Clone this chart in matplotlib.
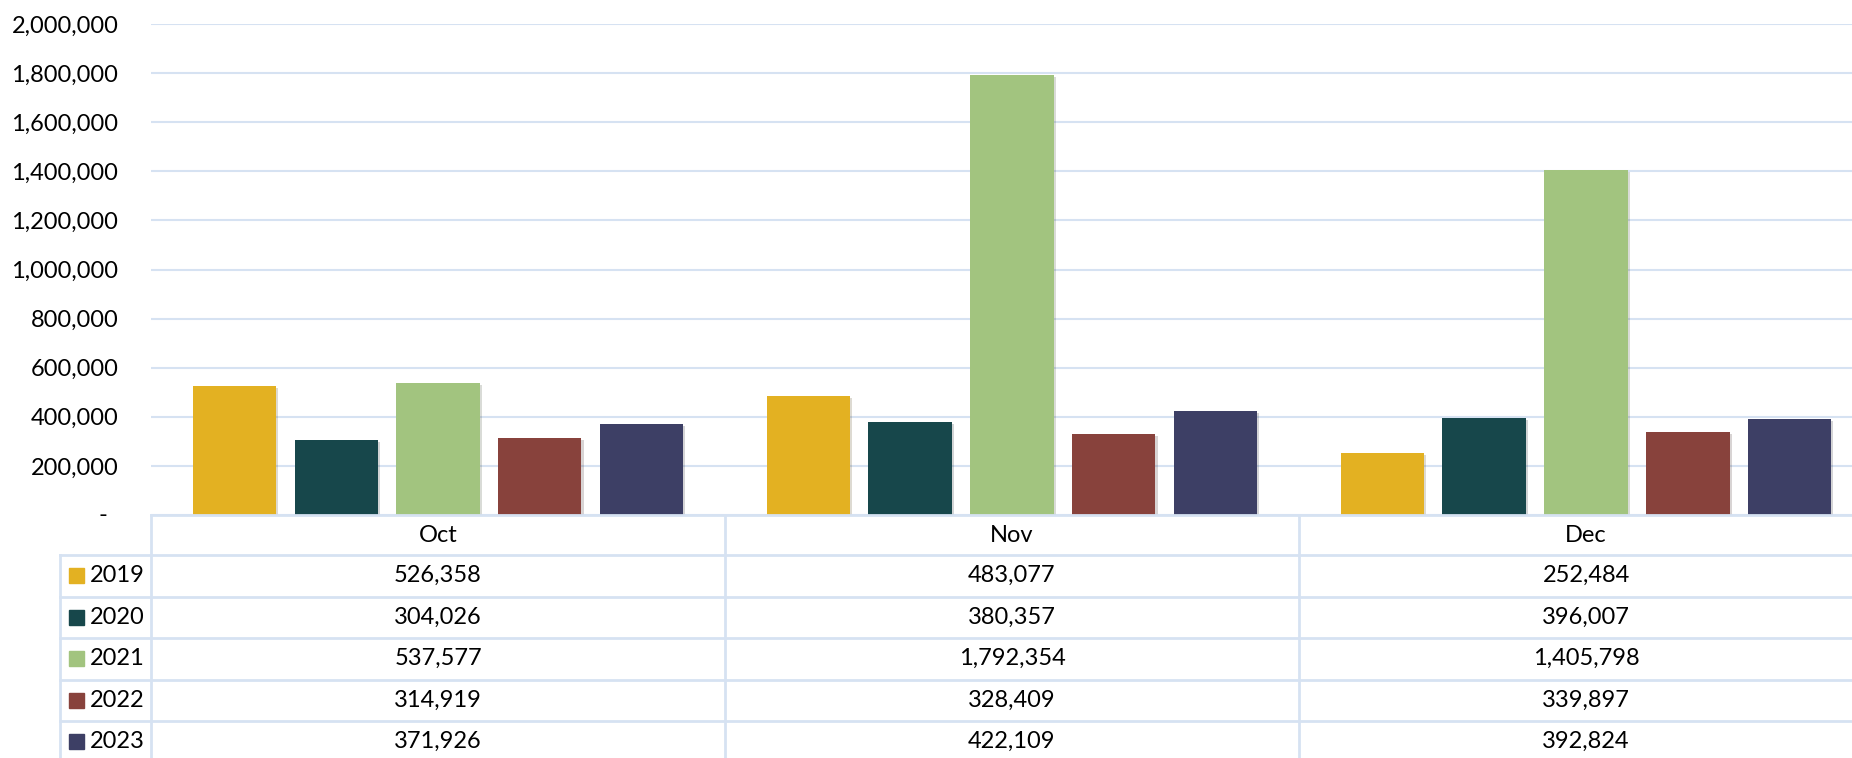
import numpy as np
import matplotlib
matplotlib.use('Agg')
import matplotlib.pyplot as plt
import matplotlib.patheffects as pe
import matplotlib.transforms as mtrans
from matplotlib.ticker import FuncFormatter

# data
months = ['Oct', 'Nov', 'Dec']
years = ['2019', '2020', '2021', '2022', '2023']
v2019 = [526358, 483077, 252484]
v2020 = [304026, 380357, 396007]
v2021 = [537577, 1792354, 1405798]
v2022 = [314919, 328409, 339897]
v2023 = [371926, 422109, 392824]
series = [v2019, v2020, v2021, v2022, v2023]
colors = ['#E3B122', '#17474B', '#A2C47F', '#88423C', '#3D3F65']

plt.rcParams['font.family'] = ['Lato', 'DejaVu Sans']
W, H = 1852, 758
grid_c = '#D6E2F2'
fs = 17

fig = plt.figure(figsize=(W / 100, H / 100), dpi=100)

# pixel layout (plot area runs past the right edge, as in the reference)
x_left, x_right = 151, 1873
y_top, y_zero = 24, 515
ax = fig.add_axes([x_left / W, 1 - y_zero / H, (x_right - x_left) / W, (y_zero - y_top) / H])

x = np.arange(len(months))
step, width = 0.1775, 0.145
for i, (yr, vals) in enumerate(zip(years, series)):
    ax.bar(x + (i - 2) * step, vals, width=width, color=colors[i], zorder=3,
           path_effects=[pe.SimplePatchShadow(offset=(1.5, -1.5), alpha=0.18), pe.Normal()])

ax.set_xlim(-0.5, 2.5)
ax.set_ylim(0, 2000000)
ax.set_yticks(np.arange(0, 2000001, 200000))
ax.yaxis.set_major_formatter(FuncFormatter(lambda v, p: '' if v == 0 else f'{int(v):,}'))
ax.tick_params(axis='y', length=0, pad=23.5, labelsize=fs)
ax.set_xticks([])
ax.grid(axis='y', color=grid_c, lw=1.5, zorder=0)
for s in ax.spines.values():
    s.set_visible(False)

# zero label drawn as a dash, like Excel's accounting format
tr = mtrans.offset_copy(ax.get_yaxis_transform(), fig=fig, x=-44, y=0, units='dots')
ax.text(0, 0, '-', transform=tr, ha='right', va='center', fontsize=fs)

# data table below the chart
row_h = 41.5
y_bot = y_zero + 40 + 5 * row_h
leg_left = 60
cw = (x_right - x_left) / 3
tb = fig.add_axes([leg_left / W, 1 - y_bot / H, (x_right - leg_left) / W, (y_bot - y_zero) / H])
tb.set_xlim(-0.5 - (x_left - leg_left) / cw, 2.5)
tb.set_ylim(y_bot, y_zero)
tb.axis('off')

lc = grid_c
lw = 2
tb.plot([-0.5, 2.5], [y_zero, y_zero], color=lc, lw=lw, clip_on=False)
leg_x0 = -0.5 - (x_left - leg_left) / cw
rows_top = y_zero + 40
for r in range(5):
    yy = rows_top + r * row_h
    tb.plot([leg_x0, 2.5], [yy, yy], color=lc, lw=lw, clip_on=False)
tb.plot([leg_x0, leg_x0], [rows_top, y_bot], color=lc, lw=lw, clip_on=False)
for b in [-0.5, 0.5, 1.5]:
    tb.plot([b, b], [y_zero, y_bot], color=lc, lw=lw, clip_on=False)

for j, m in enumerate(months):
    tb.text(j, y_zero + 20, m, ha='center', va='center', fontsize=fs)
for r, (yr, vals) in enumerate(zip(years, series)):
    yc = rows_top + r * row_h + row_h / 2
    tb.add_patch(plt.Rectangle((leg_x0 + 9 / cw, yc - 7.5), 15 / cw, 15, color=colors[r], clip_on=False))
    tb.text(leg_x0 + 30 / cw, yc, yr, ha='left', va='center', fontsize=fs)
    for j, v in enumerate(vals):
        tb.text(j, yc, f'{v:,}', ha='center', va='center', fontsize=fs)

fig.savefig('out.png', dpi=100)
